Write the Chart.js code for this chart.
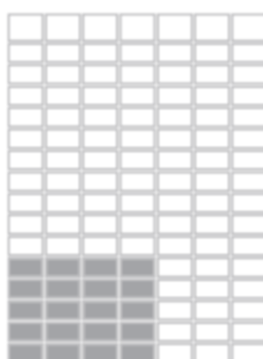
<!DOCTYPE html>
<html>
<head>
<meta charset="utf-8">
<script src="https://cdn.jsdelivr.net/npm/chart.js@4"></script>
<style>
  html, body { margin: 0; padding: 0; background: #fff; overflow: hidden; }
  #wrap { position: absolute; left: 0; top: 0; width: 268px; height: 366px; }
  canvas { filter: blur(0.8px); }
</style>
</head>
<body>
<div id="wrap"><canvas id="grid" width="268" height="366"></canvas></div>
<script>
// columns of the waffle grid (left to right)
const columns = ['1', '2', '3', '4', '5', '6', '7'];
// row heights, top row first (top row is a bit taller)
const rowHeights = [1.36, 1, 1, 1, 1, 1, 1, 1, 1, 1, 1, 1, 1, 1, 1, 1];
// shaded block in the lower left corner
const shadedRows = 5;     // counted from the bottom
const shadedColumns = 4;  // counted from the left

const total = rowHeights.reduce((a, b) => a + b, 0);
const gap = 0.014;

// build one floating-bar dataset per row, bottom row first
const datasets = [];
let base = 0;
for (let r = rowHeights.length - 1; r >= 0; r--) {
    const fromBottom = rowHeights.length - 1 - r;
    const lo = base, hi = base + rowHeights[r];
    datasets.push({
        data: columns.map(() => [lo + gap, hi - gap]),
        backgroundColor: columns.map((c, i) =>
            (fromBottom < shadedRows && i < shadedColumns) ? '#a3a4a7' : '#ffffff'),
        borderColor: '#bfbfc1',
        borderWidth: 2.5,
        borderSkipped: false,
        barPercentage: 0.98,
        categoryPercentage: 1
    });
    base = hi;
}

const ctx = document.getElementById('grid').getContext('2d');
new Chart(ctx, {
    type: 'bar',
    data: { labels: columns, datasets: datasets },
    options: {
        responsive: false,
        animation: false,
        devicePixelRatio: 1,
        layout: { padding: { left: 7, right: 0, top: 13, bottom: 2 } },
        plugins: { legend: { display: false }, tooltip: { enabled: false } },
        scales: {
            x: { display: false, stacked: true },
            y: { display: false, min: 0, max: total }
        }
    }
});
</script>
</body>
</html>
